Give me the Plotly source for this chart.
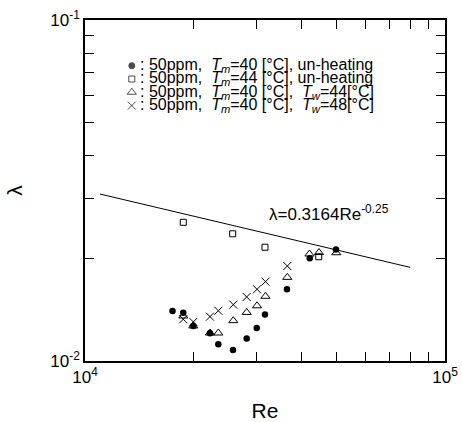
import plotly.graph_objects as go

# ---- data ----
re_circle = [17500, 18750, 19990, 22240, 23460, 25770, 28130, 30000, 31620, 36400, 42100, 49800]
lam_circle = [0.01401, 0.01384, 0.01267, 0.01206, 0.01119, 0.01077, 0.01164, 0.01250, 0.01368, 0.01623, 0.02000, 0.02123]

re_square = [18750, 25720, 31620, 44590]
lam_square = [0.02551, 0.02361, 0.02156, 0.02022]

re_tri = [18750, 19990, 22240, 23460, 25820, 28130, 30050, 31720, 36470, 42030, 44670, 49890]
lam_tri = [0.01355, 0.01267, 0.01208, 0.01208, 0.01313, 0.01388, 0.01452, 0.01548, 0.01759, 0.02059, 0.02080, 0.02077]

re_cross = [18750, 19990, 22240, 23460, 25820, 28130, 30050, 31720, 36470]
lam_cross = [0.01326, 0.01302, 0.01349, 0.01404, 0.01463, 0.01541, 0.01623, 0.01709, 0.01899]

re_line = [11000, 80000]
lam_line = [0.03088, 0.01882]

NB = "\u00a0"
legend_labels = [
    f":{NB}50ppm,{NB}{NB}<i>T<sub>m</sub></i>=40{NB}[°C],{NB}un-heating",
    f":{NB}50ppm,{NB}{NB}<i>T<sub>m</sub></i>=44{NB}[°C],{NB}un-heating",
    f":{NB}50ppm,{NB}{NB}<i>T<sub>m</sub></i>=40{NB}[°C],{NB}{NB}<i>T<sub>w</sub></i>=44[°C]",
    f":{NB}50ppm,{NB}{NB}<i>T<sub>m</sub></i>=40{NB}[°C],{NB}{NB}<i>T<sub>w</sub></i>=48[°C]",
]
legend_symbols = ["circle", "square-open", "triangle-up-open", "x-thin-open"]
legend_sizes = [6, 6, 8, 8]
legend_rows = [0.866, 0.827, 0.788, 0.749]

x_tickvals = [10000 * k for k in range(1, 11)]
x_ticktext = ["10<sup>4</sup>"] + [""] * 8 + ["10<sup>5</sup>"]
y_tickvals = [0.01 * k for k in range(1, 11)]
y_ticktext = ["10<sup>-2</sup>"] + [""] * 8 + ["10<sup>-1</sup>"]

fig = go.Figure()

fig.add_trace(go.Scatter(x=re_line, y=lam_line, mode="lines",
                         line=dict(color="black", width=1), showlegend=False))
fig.add_trace(go.Scatter(x=re_circle, y=lam_circle, mode="markers",
                         marker=dict(symbol="circle", size=6.5, color="black"), showlegend=False))
fig.add_trace(go.Scatter(x=re_square, y=lam_square, mode="markers",
                         marker=dict(symbol="square-open", size=6, color="black",
                                     line=dict(width=1, color="black")), showlegend=False))
fig.add_trace(go.Scatter(x=re_tri, y=lam_tri, mode="markers",
                         marker=dict(symbol="triangle-up-open", size=8, color="black",
                                     line=dict(width=1, color="black")), showlegend=False))
fig.add_trace(go.Scatter(x=re_cross, y=lam_cross, mode="markers",
                         marker=dict(symbol="x-thin-open", size=8, color="black",
                                     line=dict(width=1, color="black")), showlegend=False))

# legend markers on an invisible overlay axis
fig.add_trace(go.Scatter(x=[0.13] * 4, y=legend_rows, mode="markers",
                         marker=dict(symbol=legend_symbols, size=legend_sizes, color="black",
                                     line=dict(width=1, color="black")),
                         xaxis="x2", yaxis="y2", showlegend=False, cliponaxis=False))

font_family = "Liberation Sans, Arial, sans-serif"
annotations = []
for lbl, yy in zip(legend_labels, legend_rows):
    annotations.append(dict(text=lbl, x=0.148, y=yy, xref="paper", yref="paper",
                            xanchor="left", yanchor="middle", showarrow=False,
                            font=dict(size=16, color="black", family=font_family)))
annotations.append(dict(text="λ=0.3164Re<sup>-0.25</sup>", x=0.505, y=0.435,
                        xref="paper", yref="paper", xanchor="left", yanchor="middle",
                        showarrow=False, font=dict(size=17, color="black", family=font_family)))

axis_common = dict(showgrid=False, zeroline=False, ticks="inside", ticklen=9,
                   tickwidth=1, tickcolor="black", showline=True, linecolor="black",
                   linewidth=1.5, mirror="allticks", automargin=False,
                   tickfont=dict(size=17, color="black", family=font_family))

fig.update_layout(
    width=462, height=422,
    margin=dict(l=85, r=17, t=20, b=61, autoexpand=False),
    plot_bgcolor="white", paper_bgcolor="white",
    font=dict(family=font_family, color="black"),
    xaxis=dict(type="log", range=[4, 5], tickmode="array", tickvals=x_tickvals,
               ticktext=x_ticktext,
               title=dict(text="Re", font=dict(size=21, color="black", family=font_family),
                          standoff=18),
               **axis_common),
    yaxis=dict(type="log", range=[-2, -1], tickmode="array", tickvals=y_tickvals,
               ticktext=y_ticktext,
               title=dict(text="λ", font=dict(size=21, color="black", family=font_family),
                          standoff=22),
               **axis_common),
    xaxis2=dict(overlaying="x", range=[0, 1], visible=False, anchor="y2"),
    yaxis2=dict(overlaying="y", range=[0, 1], visible=False, anchor="x2"),
    annotations=annotations,
)

fig.write_html("out.html")
